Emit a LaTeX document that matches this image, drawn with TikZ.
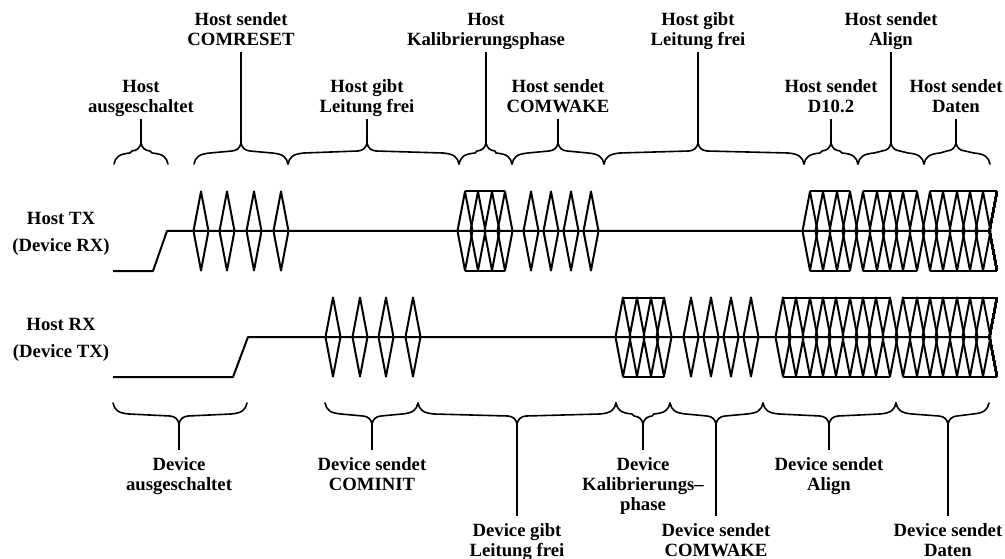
\documentclass[tikz,border=0pt]{standalone}
\usepackage{fontspec}
\setmainfont{Liberation Serif}
\usetikzlibrary{positioning}

\newcommand\spanbrace[6]{
  \draw[bracket] (#1,#4) .. controls (#1+1.5,#4-#5*7) and (#1+5,#4-#5*10) .. (#1+16,#4-#5*11)
    -- (#2-9,#4-#5*13) .. controls (#2-4,#4-#5*13.5) and (#2-1,#4-#5*16) .. (#2,#4-#5*21)
    .. controls (#2+1,#4-#5*16) and (#2+4,#4-#5*13.5) .. (#2+9,#4-#5*13)
    -- (#3-16,#4-#5*11) .. controls (#3-5,#4-#5*10) and (#3-1.5,#4-#5*7) .. (#3,#4);
  \coordinate (#6) at (#2,#4-#5*21);
}
\newcommand\pulse[2]{
  \draw[sig] (#1-7.5,#2) -- (#1,#2-39.5) -- (#1+7.5,#2) -- (#1,#2+39.5) -- cycle;
}

\begin{document}
\begin{tikzpicture}[
  x=1pt, y=-1pt,
  font=\fontsize{18.7}{20}\selectfont\bfseries,
  toplab/.style={align=center, anchor=south, text depth=4pt, inner xsep=0pt, inner ysep=2pt},
  botlab/.style={align=center, anchor=north, inner xsep=0pt, inner ysep=7pt},
  rowlab/.style={align=center, inner sep=0pt},
  bracket/.style={line width=1.6pt, line join=round, line cap=round},
  leader/.style={line width=1.7pt},
  sig/.style={line width=2pt, line join=round}
]
\useasboundingbox (0,0) rectangle (1005,559);

% row names
\node[rowlab] (hosttx) at (61,234) {Host TX\\[7pt](Device RX)};
\node[rowlab] (hostrx) at (61,340) {Host RX\\[7pt](Device TX)};

% host side
\node[toplab] (hoff) at (141,119) {Host\\ausgeschaltet};
\node[toplab] (hreset) at (241,52) {Host sendet\\COMRESET};
\node[toplab] (hfree) at (367,119) {Host gibt\\Leitung frei};
\node[toplab] (hcal) at (486,52) {Host\\Kalibrierungsphase};
\node[toplab] (hwake) at (558,119) {Host sendet\\COMWAKE};
\node[toplab] (hfreeb) at (698,52) {Host gibt\\Leitung frei};
\node[toplab] (hdten) at (831,119) {Host sendet\\D10.2};
\node[toplab] (halign) at (891,52) {Host sendet\\Align};
\node[toplab] (hdata) at (956,119) {Host sendet\\Daten};

\spanbrace{114}{141}{168}{164}{1}{thoff}
\spanbrace{194}{241}{288}{164}{1}{threset}
\spanbrace{288}{367}{459}{164}{1}{thfree}
\spanbrace{459}{486}{512}{164}{1}{thcal}
\spanbrace{512}{558}{604}{164}{1}{thwake}
\spanbrace{604}{698}{804}{164}{1}{thfreeb}
\spanbrace{804}{831}{858}{164}{1}{thdten}
\spanbrace{858}{891}{924}{164}{1}{thalign}
\spanbrace{924}{956}{990}{164}{1}{thdata}

\draw[leader] (hoff) -- (thoff);
\draw[leader] (hreset) -- (threset);
\draw[leader] (hfree) -- (thfree);
\draw[leader] (hcal) -- (thcal);
\draw[leader] (hwake) -- (thwake);
\draw[leader] (hfreeb) -- (thfreeb);
\draw[leader] (hdten) -- (thdten);
\draw[leader] (halign) -- (thalign);
\draw[leader] (hdata) -- (thdata);

% device side
\node[botlab] (doff) at (179,450) {Device\\ausgeschaltet};
\node[botlab] (dinit) at (372,450) {Device sendet\\COMINIT};
\node[botlab] (dfree) at (517,516) {Device gibt\\Leitung frei};
\node[botlab] (dcal) at (643,450) {Device\\Kalibrierungs–\\phase};
\node[botlab] (dwake) at (716,516) {Device sendet\\COMWAKE};
\node[botlab] (dalign) at (829,450) {Device sendet\\Align};
\node[botlab] (ddata) at (948,516) {Device sendet\\Daten};

\spanbrace{113}{179}{247}{403}{-1}{tdoff}
\spanbrace{325}{372}{418}{403}{-1}{tdinit}
\spanbrace{418}{517}{616}{403}{-1}{tdfree}
\spanbrace{616}{643}{670}{403}{-1}{tdcal}
\spanbrace{670}{716}{763}{403}{-1}{tdwake}
\spanbrace{763}{829}{896}{403}{-1}{tdalign}
\spanbrace{896}{948}{989}{403}{-1}{tddata}

\draw[leader] (doff) -- (tdoff);
\draw[leader] (dinit) -- (tdinit);
\draw[leader] (dfree) -- (tdfree);
\draw[leader] (dcal) -- (tdcal);
\draw[leader] (dwake) -- (tdwake);
\draw[leader] (dalign) -- (tdalign);
\draw[leader] (ddata) -- (tddata);

% host tx signal
\draw[sig] (113,271) -- (153,271) -- (167,231) -- (990,231);
\foreach \x in {201,227,254,281,465,478,492,505,531,551,571,591,810,823,837,850,863,877,890,903,917,930,943,957,970,983}
  \pulse{\x}{231}
\draw[sig] (997,191.5) -- (989.5,231) -- (997,270.5);
\foreach \xa/\xb in {465/505,810/850,863/917,930/997} {
  \draw[sig] (\xa,191.5) -- (\xb,191.5);
  \draw[sig] (\xa,270.5) -- (\xb,270.5);
}

% host rx signal
\draw[sig] (113,377) -- (233,377) -- (248,337) -- (990,337);
\foreach \x in {333,360,386,413,623,637,651,664,691,711,731,751,783,796,810,823,836,850,863,876,890,903,917,930,943,957,970,983}
  \pulse{\x}{337}
\draw[sig] (997,297.5) -- (989.5,337) -- (997,376.5);
\foreach \xa/\xb in {623/664,783/890,903/997} {
  \draw[sig] (\xa,297.5) -- (\xb,297.5);
  \draw[sig] (\xa,376.5) -- (\xb,376.5);
}
\end{tikzpicture}
\end{document}
